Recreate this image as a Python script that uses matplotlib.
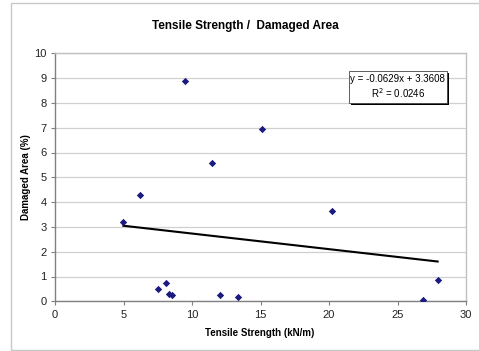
import matplotlib
matplotlib.use("Agg")
import matplotlib.pyplot as plt
from matplotlib.patches import Rectangle
import numpy as np

plt.rcParams['font.family'] = ['Liberation Sans', 'DejaVu Sans']

tensile = [4.99, 6.18, 7.49, 8.13, 8.35, 8.54, 9.51, 11.44, 12.04, 13.36, 15.11, 20.2, 26.88, 27.93]
damaged = [3.21, 4.29, 0.48, 0.73, 0.31, 0.24, 8.88, 5.58, 0.27, 0.19, 6.96, 3.65, 0.05, 0.87]
slope = -0.0629
intercept = 3.3608
r2 = 0.0246
xticks = [0, 5, 10, 15, 20, 25, 30]
yticks = list(range(0, 11))

W, H = 479, 351
fig = plt.figure(figsize=(W/100, H/100), dpi=100)
fig.patch.set_facecolor('white')

# outer chart frame
fig.patches.append(Rectangle((10.5/W, 1.5/H), (W+5)/W, (H-4.5)/H, transform=fig.transFigure,
                             fill=False, edgecolor='#c8c8c8', linewidth=1.0))

ax = fig.add_axes([55/W, (H-301.3)/H, (466-55)/W, (301.3-53.3)/H])
ax.set_xlim(0, 30)
ax.set_ylim(0, 10)
ax.set_xticks(xticks)
ax.set_yticks(yticks)
ax.grid(axis='y', color='#d0d0d0', linewidth=0.9)
ax.set_axisbelow(True)
for s in ['top', 'right']:
    ax.spines[s].set_color('#c0c0c0')
    ax.spines[s].set_linewidth(1.0)
for s in ['left', 'bottom']:
    ax.spines[s].set_color('#808080')
    ax.spines[s].set_linewidth(1.0)
ax.tick_params(axis='both', direction='out', length=3, width=0.8, color='#808080',
               labelsize=8, labelcolor='#222222', pad=3)

xs = np.array([min(tensile), max(tensile)])
ax.plot(xs, slope*xs + intercept, color='black', linewidth=1.5, zorder=2)
ax.scatter(tensile, damaged, marker='D', s=14, color='#1a1a80', zorder=3, linewidths=0)

ax.set_xlabel('Tensile Strength (kN/m)', fontsize=7, fontweight='bold')
ax.set_ylabel('Damaged Area (%)', fontsize=7, fontweight='bold')
ax.xaxis.set_label_coords((260 - 55) / 411, (301.3 - 333) / 248)
ax.yaxis.set_label_coords((26 - 55) / 411, 0.5)
ax.xaxis.label.set_va('center')
ax.yaxis.label.set_va('center')

fig.text(245/W, 1 - 26/H, 'Tensile Strength /  Damaged Area', ha='center', va='center',
         fontsize=8.5, fontweight='bold')

# equation box with shadow
bx0, by0, bx1, by1 = 348.7, 71, 446.7, 102.7
ax.add_patch(Rectangle(((bx0+2)/W, (H-by1-2)/H), (bx1-bx0)/W, (by1-by0)/H,
                       transform=fig.transFigure, facecolor='black', edgecolor='none',
                       zorder=5, clip_on=False))
ax.add_patch(Rectangle((bx0/W, (H-by1)/H), (bx1-bx0)/W, (by1-by0)/H,
                       transform=fig.transFigure, facecolor='white', edgecolor='#444444',
                       linewidth=0.6, zorder=6, clip_on=False))
ax.text((bx0+bx1)/2/W, 1 - 79.5/H, f'y = {slope}x + {intercept}', ha='center', va='center',
        fontsize=7, zorder=7, transform=fig.transFigure)
ax.text((bx0+bx1)/2/W, 1 - 93/H, f'R$^2$ = {r2}', ha='center', va='center', fontsize=7,
        zorder=7, transform=fig.transFigure)

fig.savefig('out.png', dpi=100)
